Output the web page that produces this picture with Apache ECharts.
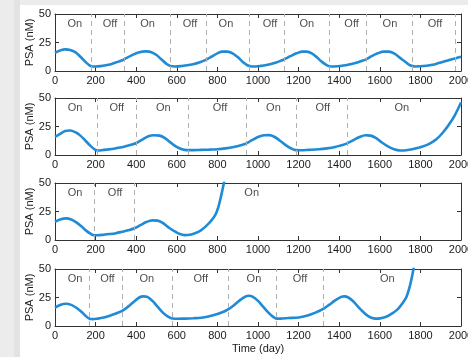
<!DOCTYPE html>
<html>
<head>
<meta charset="utf-8">
<script src="https://cdn.jsdelivr.net/npm/echarts@6/dist/echarts.min.js"></script>
<style>
  html, body { margin: 0; padding: 0; width: 468px; height: 357px; overflow: hidden; background: #ececec; }
  #edge { position: absolute; left: 14px; top: 0; width: 6px; bottom: 0; background: #e3e3e3; }
  #sheet { position: absolute; left: 20px; top: 5px; right: 0; bottom: 0; background: #ffffff; }
  #chart { position: absolute; left: 0; top: 0; width: 468px; height: 357px; }
</style>
</head>
<body>
<div id="edge"></div>
<div id="sheet"></div>
<div id="chart"></div>
<script>
// Time axis ticks (days) and PSA axis ticks (nM)
const dayTicks = [0, 200, 400, 600, 800, 1000, 1200, 1400, 1600, 1800, 2000];
const psaTicks = [0, 25, 50];

// Regimen 1: regular intermittent cycling
const psa1 = [[0,16],[25,18],[50,19],[75,18.5],[100,16.5],[125,12.5],[150,8],[170,5],[185,4],[200,4],
  [225,4.3],[250,5],[275,6],[300,7.5],[325,9],[343,10.5],[370,13],[400,15.5],[430,17],[450,17.2],
  [475,16.5],[500,14],[525,10],[550,6.2],[568,4.3],[590,4],[620,4.3],[650,5],[680,6],[710,7.5],
  [745,10],[770,12.5],[800,15.5],[825,17],[850,17],[875,15.5],[900,12.2],[925,8],[950,4.8],[970,4],
  [1000,4.2],[1030,4.8],[1060,6],[1090,7.5],[1115,9.2],[1129,10.2],[1160,13],[1190,15.5],[1220,17],[1240,17],
  [1265,15.5],[1290,12],[1315,8],[1340,5],[1360,4],[1390,4.2],[1420,4.8],[1450,5.8],[1480,7],[1510,8.8],
  [1533,10.2],[1560,13],[1590,15.5],[1620,17],[1645,17],[1670,15.5],[1700,11.5],[1730,7.5],[1752,4.8],[1772,4],
  [1800,4.1],[1830,4.6],[1860,5.5],[1890,7],[1920,8.5],[1950,10],[1975,11.2],[2000,12.5]];
const switches1 = [180, 343, 568, 745, 957, 1129, 1353, 1533, 1760, 1972];
const phases1 = [['On',98],['Off',271],['On',456],['Off',665],['On',842],['Off',1059],['On',1240],['Off',1461],['On',1650],['Off',1872]];

// Regimen 2: longer off periods, escape near the end
const psa2 = [[0,16],[25,18.5],[50,21],[75,21.5],[100,20],[125,17],[150,12.5],[175,8],[195,5],[210,4],
  [230,4.2],[260,4.8],[290,5.5],[320,6.5],[350,7.8],[380,9.2],[401,10.5],[430,13.5],[460,16.5],[490,17.3],
  [515,17],[540,15],[565,11.5],[595,7.5],[625,5],[650,4.3],[680,4.3],[720,4.5],[760,4.7],[800,5],
  [840,5.8],[880,7],[915,8.5],[943,10.2],[970,13],[1000,15.8],[1030,17.3],[1055,17.4],[1080,16],[1105,13],
  [1130,9.5],[1160,6],[1185,4.3],[1210,4.2],[1250,4.5],[1300,5],[1340,5.8],[1380,7],[1410,8.5],[1439,10.2],
  [1470,13],[1500,15.8],[1530,17.3],[1555,17],[1580,15],[1610,11],[1640,7.5],[1670,5],[1700,4],[1730,4.2],
  [1760,5],[1790,6.3],[1820,8],[1850,10.5],[1880,14],[1910,19.5],[1940,26.5],[1970,35],[2000,46]];
const switches2 = [207, 401, 656, 943, 1189, 1439];
const phases2 = [['On',99],['Off',304],['On',534],['Off',813],['On',1076],['Off',1319],['On',1708]];

// Regimen 3: single off period, early escape
const psa3 = [[0,16],[25,18],[55,19],[80,18],[105,15.5],[130,12],[155,8],[175,5.5],[192,4.2],[210,4.2],
  [240,4.6],[270,5.2],[300,6],[330,7.2],[360,8.5],[391,10.3],[420,13],[450,15.8],[480,17.2],[505,17],
  [530,15],[560,11],[590,7.5],[615,5.2],[640,4.3],[665,4.6],[690,6],[715,8],[740,11.5],[765,16],
  [790,22],[805,29],[820,40],[832,50],[845,62]];
const switches3 = [192, 391];
const phases3 = [['On',99],['Off',296],['On',969]];

// Regimen 4: higher peaks, escape after the third on phase
const psa4 = [[0,16],[25,18.5],[55,19.5],[80,18.5],[105,16],[130,12.5],[150,9],[169,6.5],[185,6],[210,6.5],
  [240,7.5],[270,9],[300,11],[333,13.5],[360,17],[390,21.5],[415,25],[435,26],[455,25.5],[480,22],
  [505,17],[530,12],[555,8.5],[580,6.5],[600,6.3],[640,6.5],[680,6.8],[720,7.2],[760,8.5],[800,10.5],
  [830,12.5],[851,14.3],[880,18],[910,22.5],[940,26],[955,26.5],[975,25.5],[1000,22],[1025,17],[1050,12],
  [1075,8],[1092,6.5],[1110,6.5],[1150,7],[1200,7.5],[1240,9],[1280,11.5],[1319,14.8],[1350,18.5],[1380,22.5],
  [1410,25.5],[1425,26],[1445,25],[1470,21.5],[1495,16.5],[1520,12],[1545,8.5],[1570,6.7],[1590,6.5],[1615,7.2],
  [1640,8.8],[1665,11.5],[1690,15],[1710,19.5],[1730,25],[1745,33],[1757,42],[1767,51],[1780,62]];
const switches4 = [169, 333, 580, 851, 1092, 1319];
const phases4 = [['On',99],['Off',258],['On',452],['Off',718],['On',980],['Off',1207],['On',1637]];

const panels = [
  { psa: psa1, switches: switches1, phases: phases1, top: 14 },
  { psa: psa2, switches: switches2, phases: phases2, top: 98 },
  { psa: psa3, switches: switches3, phases: phases3, top: 183 },
  { psa: psa4, switches: switches4, phases: phases4, top: 269 }
];

const FONT = 'Liberation Sans, Arial, Helvetica, sans-serif';
const INK = '#333333';
const TEXT = '#1a1a1a';

const grid = [], xAxis = [], yAxis = [], series = [];

panels.forEach((p, i) => {
  grid.push({ left: 55, right: 7, top: p.top, height: 57, containLabel: false, outerBoundsMode: 'none' });
  const isLast = i === panels.length - 1;
  const baseX = {
    gridIndex: i, type: 'value', min: dayTicks[0], max: dayTicks[dayTicks.length - 1],
    interval: dayTicks[1] - dayTicks[0],
    axisLine: { show: true, onZero: false, lineStyle: { color: INK, width: 1 } },
    axisTick: { show: true, inside: true, length: 4, lineStyle: { color: INK } },
    splitLine: { show: false }
  };
  xAxis.push(Object.assign({}, baseX, {
    position: 'bottom',
    axisLabel: { margin: 4, color: TEXT, fontSize: 11, fontFamily: FONT, showMinLabel: true, showMaxLabel: true,
      formatter: v => String(v) },
    name: isLast ? 'Time (day)' : '',
    nameLocation: 'middle', nameGap: 17, nameMoveOverlap: false,
    nameTextStyle: { color: TEXT, fontSize: 11, fontFamily: FONT }
  }));
  xAxis.push(Object.assign({}, baseX, { position: 'top', axisLabel: { show: false } }));

  const baseY = {
    gridIndex: i, type: 'value', min: psaTicks[0], max: psaTicks[psaTicks.length - 1],
    interval: psaTicks[1] - psaTicks[0],
    axisLine: { show: true, onZero: false, lineStyle: { color: INK, width: 1 } },
    axisTick: { show: true, inside: true, length: 4, lineStyle: { color: INK } },
    splitLine: { show: false }
  };
  yAxis.push(Object.assign({}, baseY, {
    position: 'left',
    axisLabel: { margin: 4, color: TEXT, fontSize: 11, fontFamily: FONT, formatter: v => String(v) },
    name: 'PSA (nM)', nameLocation: 'middle', nameGap: 20, nameMoveOverlap: false,
    nameTextStyle: { color: TEXT, fontSize: 11, fontFamily: FONT }
  }));
  yAxis.push(Object.assign({}, baseY, { position: 'right', axisLabel: { show: false } }));

  series.push({
    type: 'line', xAxisIndex: 2 * i, yAxisIndex: 2 * i,
    data: p.psa, smooth: 0.35, showSymbol: false, clip: true,
    lineStyle: { color: '#1f8ad6', width: 2.6 },
    emphasis: { disabled: true },
    markLine: {
      silent: true, symbol: 'none', label: { show: false },
      lineStyle: { type: [5, 4], color: '#b0b0b0', width: 1 },
      emphasis: { disabled: true },
      data: p.switches.map(d => ({ xAxis: d }))
    },
    z: 3
  });

  series.push({
    type: 'scatter', xAxisIndex: 2 * i, yAxisIndex: 2 * i,
    symbolSize: 0, silent: true,
    data: p.phases.map(([text, day]) => ({ name: text, value: [day, 41] })),
    label: { show: true, position: 'inside', formatter: '{b}', color: TEXT, fontSize: 11, fontFamily: FONT },
    z: 4
  });
});

const chart = echarts.init(document.getElementById('chart'), null, { renderer: 'canvas' });
chart.setOption({ animation: false, grid, xAxis, yAxis, series });
</script>
</body>
</html>
